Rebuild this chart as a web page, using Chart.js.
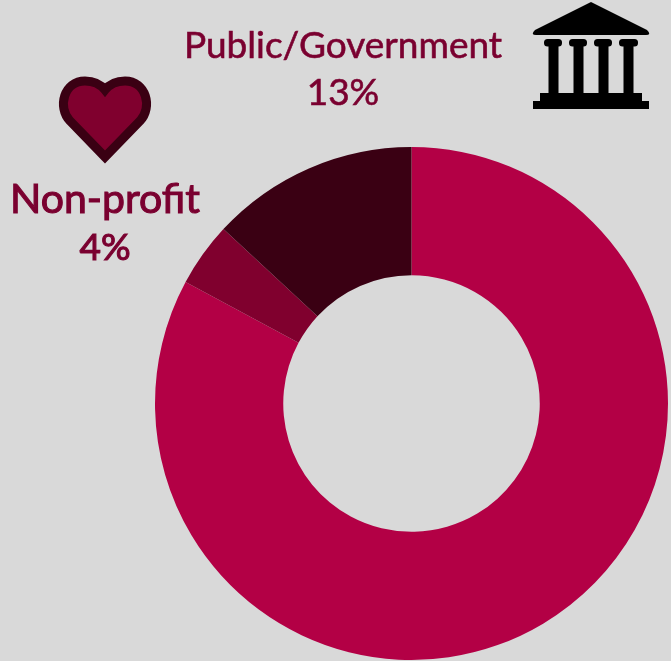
<!DOCTYPE html>
<html>
<head>
    <title>Sector shares</title>
    <script src="https://cdn.jsdelivr.net/npm/chart.js"></script>
    <style>
        html, body { margin: 0; padding: 0; background: #d9d9d9; overflow: hidden; }
        #wrap { position: relative; width: 671px; height: 661px; }
        canvas { display: block; }
        .label { position: absolute; text-align: center; color: #7a0030; white-space: nowrap; transform: translateX(-50%); }
        #pubLabel { left: 343px; top: 20px; font: 400 37px/47px Lato, sans-serif; -webkit-text-stroke: 0.6px #7a0030; }
        #nonLabel { left: 105px; top: 174px; font: 400 41px/47px Lato, sans-serif; -webkit-text-stroke: 1.1px #7a0030; }
        #nonLabel span { font-size: 37px; }
        svg { position: absolute; left: 0; top: 0; }
    </style>
</head>
<body>
    <div id="wrap">
        <canvas id="chart" width="671" height="661"></canvas>
        <div class="label" id="pubLabel"></div>
        <div class="label" id="nonLabel"></div>
        <svg width="671" height="661">
            <!-- heart -->
            <path d="M105 157 L70 121 C57 107 64 81 85 81 C94 81 101 85 105 90 C109 85 116 81 125 81 C146 81 153 107 140 121 Z"
                  fill="#80002e" stroke="#3a0013" stroke-width="9" stroke-linejoin="miter"/>
            <!-- bank -->
            <path d="M591 2 L647 30 Q652 35 646 35 L536 35 Q530 35 535 30 Z" fill="#000"/>
            <rect x="544" y="39" width="18" height="7.5" rx="3.5" fill="#000"/>
            <rect x="569" y="39" width="18" height="7.5" rx="3.5" fill="#000"/>
            <rect x="594" y="39" width="18" height="7.5" rx="3.5" fill="#000"/>
            <rect x="619" y="39" width="19" height="7.5" rx="3.5" fill="#000"/>
            <rect x="548.5" y="45" width="10" height="49" fill="#000"/>
            <rect x="573.5" y="45" width="10" height="49" fill="#000"/>
            <rect x="598.5" y="45" width="10" height="49" fill="#000"/>
            <rect x="623.5" y="45" width="10" height="49" fill="#000"/>
            <rect x="540" y="93" width="102" height="9" fill="#000"/>
            <rect x="533" y="101" width="116" height="8" fill="#000"/>
        </svg>
    </div>
    <script>
        // Values
        const categories = ['For-profit', 'Non-profit', 'Public/Government'];
        const shares = [82.85, 4.05, 13.1];
        const shareLabels = ['83%', '4%', '13%'];
        const sliceColors = ['#b30045', '#80002e', '#3a0013'];

        // Labels above the ring
        document.getElementById('pubLabel').innerHTML = categories[2] + '<br>' + shareLabels[2];
        document.getElementById('nonLabel').innerHTML = categories[1] + '<br><span>' + shareLabels[1] + '</span>';

        new Chart(document.getElementById('chart'), {
            type: 'doughnut',
            data: {
                labels: categories,
                datasets: [{
                    data: shares,
                    backgroundColor: sliceColors,
                    borderWidth: 0
                }]
            },
            options: {
                responsive: false,
                animation: false,
                cutout: '50%',
                layout: { padding: { left: 155, top: 147, right: 3, bottom: 1 } },
                plugins: {
                    legend: { display: false },
                    tooltip: { enabled: false }
                }
            }
        });
    </script>
</body>
</html>
